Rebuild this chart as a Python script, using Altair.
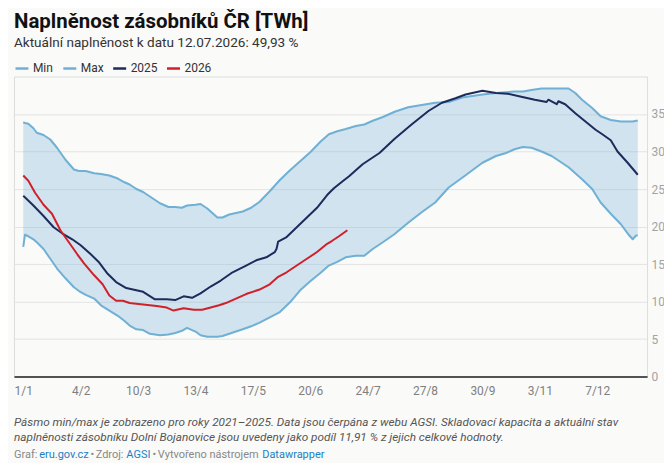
import json
import altair as alt
import pandas as pd

# ---------------- data ----------------
band_days = [0, 1, 3, 6, 8, 12, 16, 20, 25, 30, 33, 37, 42, 46, 51, 56, 60, 63, 67, 71,
             75, 81, 86, 90, 94, 97, 102, 105, 109, 115, 118, 122, 126, 130, 135, 140, 146, 152, 158, 164,
             170, 176, 181, 186, 191, 197, 202, 207, 213, 220, 228, 236, 244, 252, 260, 266, 272, 280, 286, 291,
             296, 301, 307, 313, 319, 323, 327, 331, 337, 342, 348, 354, 359, 361, 363, 364]
band_max = [33.9, 33.8, 33.7, 33.1, 32.5, 32.2, 31.6, 30.5, 28.9, 27.6, 27.4, 27.4, 27.1, 27.0, 26.8, 26.4, 25.9, 25.6, 25.0, 24.6,
            24.0, 23.1, 22.6, 22.6, 22.5, 22.8, 22.9, 23.0, 22.4, 21.2, 21.2, 21.6, 21.8, 22.0, 22.5, 23.3, 24.7, 26.2, 27.5, 28.7,
            29.9, 31.3, 32.3, 32.7, 33.0, 33.4, 33.6, 34.1, 34.6, 35.3, 35.9, 36.2, 36.5, 36.6, 37.2, 37.4, 37.6, 37.8, 37.9, 38.0,
            38.0, 38.2, 38.4, 38.4, 38.4, 38.4, 37.8, 36.9, 35.8, 34.7, 34.2, 34.0, 34.0, 34.0, 34.1, 34.1]
band_min = [17.3, 18.9, 18.7, 18.3, 17.9, 17.0, 15.7, 14.4, 13.1, 11.9, 11.4, 10.9, 10.4, 9.5, 8.8, 8.1, 7.4, 6.8, 6.3, 6.2,
            5.7, 5.5, 5.6, 5.8, 6.1, 6.5, 6.0, 5.5, 5.3, 5.3, 5.4, 5.7, 6.0, 6.3, 6.7, 7.2, 7.9, 8.6, 9.9, 11.5,
            12.7, 13.8, 14.8, 15.3, 15.9, 16.1, 16.1, 17.0, 17.9, 19.0, 20.5, 21.9, 23.2, 25.2, 26.5, 27.5, 28.5, 29.4, 29.8, 30.3,
            30.6, 30.5, 30.0, 29.4, 28.5, 27.9, 27.1, 26.3, 25.0, 23.2, 21.7, 20.3, 18.8, 18.3, 18.8, 18.8]

days_2025 = [0, 6, 12, 18, 23, 29, 34, 40, 45, 50, 55, 61, 67, 71, 78, 85, 90, 95, 100, 105,
             111, 117, 124, 132, 138, 144, 149, 150, 151, 156, 162, 168, 174, 180, 184, 189, 193, 201, 211, 220,
             230, 240, 248, 256, 262, 270, 272, 280, 287, 295, 303, 310, 311, 316, 317, 321, 327, 333, 339, 343,
             348, 352, 358, 364]
vals_2025 = [24.1, 22.8, 21.4, 19.9, 19.1, 18.3, 17.5, 16.3, 15.2, 13.7, 12.6, 11.8, 11.5, 11.3, 10.3, 10.3, 10.2, 10.7, 10.5, 11.1,
             12.0, 12.8, 13.9, 14.8, 15.5, 15.9, 16.6, 17.0, 18.0, 18.6, 19.9, 21.2, 22.5, 24.2, 25.1, 26.0, 26.7, 28.3, 29.8, 31.7,
             33.6, 35.4, 36.5, 37.1, 37.6, 38.0, 38.1, 37.8, 37.7, 37.3, 36.9, 36.6, 36.9, 36.3, 36.7, 36.3, 35.1, 34.0, 32.9, 32.3,
             31.5, 30.0, 28.5, 26.9]

days_2026 = [0, 3, 7, 12, 17, 22, 27, 32, 36, 42, 47, 51, 55, 59, 63, 71, 79, 85, 89, 95,
             101, 106, 111, 116, 120, 126, 132, 140, 146, 151, 156, 162, 168, 174, 180, 183, 187, 192]
vals_2026 = [26.8, 26.1, 24.5, 22.9, 21.7, 19.5, 17.9, 16.3, 15.1, 13.5, 12.3, 10.8, 10.1, 10.1, 9.8, 9.6, 9.4, 9.2, 8.8, 9.1,
             8.9, 8.9, 9.2, 9.5, 9.8, 10.4, 11.0, 11.6, 12.3, 13.3, 13.9, 14.8, 15.7, 16.6, 17.7, 18.1, 18.7, 19.5]

x_tick_days = [0, 34, 68, 102, 136, 170, 204, 238, 272, 306, 340]
x_tick_labels = ["1/1", "4/2", "10/3", "13/4", "17/5", "20/6", "24/7", "27/8", "30/9", "3/11", "7/12"]
y_ticks = [0, 5, 10, 15, 20, 25, 30, 35]

series_names = ["Min", "Max", "2025", "2026"]
series_colors = ["#6fb0d4", "#6fb0d4", "#1f2a5c", "#d0202a"]

title_text = "Naplněnost zásobníků ČR [TWh]"
subtitle_text = "Aktuální naplněnost k datu 12.07.2026: 49,93 %"
note_lines = [
    "Pásmo min/max je zobrazeno pro roky 2021–2025. Data jsou čerpána z webu AGSI. Skladovací kapacita a aktuální stav",
    "naplněnosti zásobníku Dolní Bojanovice jsou uvedeny jako podíl 11,91 % z jejich celkové hodnoty.",
]
source_parts = ["Graf:", "eru.gov.cz", "•", "Zdroj:", "AGSI", "•", "Vytvořeno nástrojem", "Datawrapper"]

# ---------------- tables ----------------
band_df = pd.DataFrame({"day": band_days, "max": band_max, "min": band_min})
band_lines_df = pd.concat([
    pd.DataFrame({"day": band_days, "value": band_min, "series": "Min"}),
    pd.DataFrame({"day": band_days, "value": band_max, "series": "Max"}),
])
year_lines_df = pd.concat([
    pd.DataFrame({"day": days_2025, "value": vals_2025, "series": "2025"}),
    pd.DataFrame({"day": days_2026, "value": vals_2026, "series": "2026"}),
])

FONT = "Roboto"
W, H = 635, 301

x_scale = alt.Scale(domain=[-5.5, 369.5], nice=False, zero=False)
y_scale = alt.Scale(domain=[0, 40], nice=False, zero=True)

x_axis = alt.Axis(
    values=x_tick_days,
    labelExpr=f"{json.dumps(x_tick_labels)}[round(datum.value / 34)]",
    grid=False, ticks=False, domain=True, domainColor="#222222", domainWidth=1.5,
    labelColor="#808080", labelFontSize=12, labelFont=FONT, labelPadding=9,
    labelFlush=False, labelOverlap=False, title=None,
)
y_axis = alt.Axis(
    orient="right", values=y_ticks, grid=True, gridColor="#e3e3e3", gridWidth=1,
    ticks=False, domain=False, labelColor="#a3a3a3", labelFontSize=12, labelFont=FONT,
    labelPadding=4, title=None,
)

color = alt.Color(
    "series:N",
    scale=alt.Scale(domain=series_names, range=series_colors),
    legend=alt.Legend(
        orient="none", legendX=0, legendY=-16, direction="horizontal", title=None,
        symbolType="stroke", symbolSize=169, symbolStrokeWidth=2.5,
        labelFontSize=12, labelFont=FONT, labelColor="#333333", labelOffset=3,
        columnPadding=4, padding=0,
    ),
)

area = alt.Chart(band_df).mark_area(color="#6fb1d6", opacity=0.3).encode(
    x=alt.X("day:Q", scale=x_scale, axis=x_axis),
    y=alt.Y("max:Q", scale=y_scale, axis=y_axis),
    y2="min:Q",
)

band_lines = alt.Chart(band_lines_df).mark_line(strokeWidth=2, strokeJoin="round").encode(
    x=alt.X("day:Q", scale=x_scale, axis=x_axis),
    y=alt.Y("value:Q", scale=y_scale, axis=y_axis),
    color=color,
)

year_lines = alt.Chart(year_lines_df).mark_line(strokeWidth=2, strokeJoin="round").encode(
    x=alt.X("day:Q", scale=x_scale, axis=x_axis),
    y=alt.Y("value:Q", scale=y_scale, axis=y_axis),
    color=color,
)


def text_layer(txt, x, y, size, col, weight="normal", style="normal"):
    return alt.Chart(pd.DataFrame({"t": [txt]})).mark_text(
        align="left", baseline="alphabetic", font=FONT, fontSize=size,
        fontWeight=weight, fontStyle=style, color=col,
    ).encode(text="t:N", x=alt.value(x), y=alt.value(y))


texts = [
    text_layer(title_text, 0, -49, 20.5, "#111111", weight="bold"),
    text_layer(subtitle_text, 0, -30, 13.6, "#333333"),
    text_layer(note_lines[0], 0, 350.5, 11.8, "#555555", style="italic"),
    text_layer(note_lines[1], 0, 366, 11.8, "#555555", style="italic"),
]
src_x = [0, 25.3, 76.7, 82, 112.7, 139, 144.3, 249]
src_col = ["#888888", "#1d80c3", "#888888", "#888888", "#1d80c3", "#888888", "#888888", "#1d80c3"]
for t, xx, cc in zip(source_parts, src_x, src_col):
    texts.append(text_layer(t, xx, 383, 11, cc))

chart = alt.layer(area, band_lines, year_lines, *texts).properties(
    width=W, height=H,
    autosize=alt.AutoSizeParams(type="none"),
    padding={"left": 6, "top": 68, "right": 17, "bottom": 86},
    background="#fafaf8",
).configure_view(stroke=None).configure(font=FONT)

chart.save("out.html", embed_options={"renderer": "svg", "actions": False})
